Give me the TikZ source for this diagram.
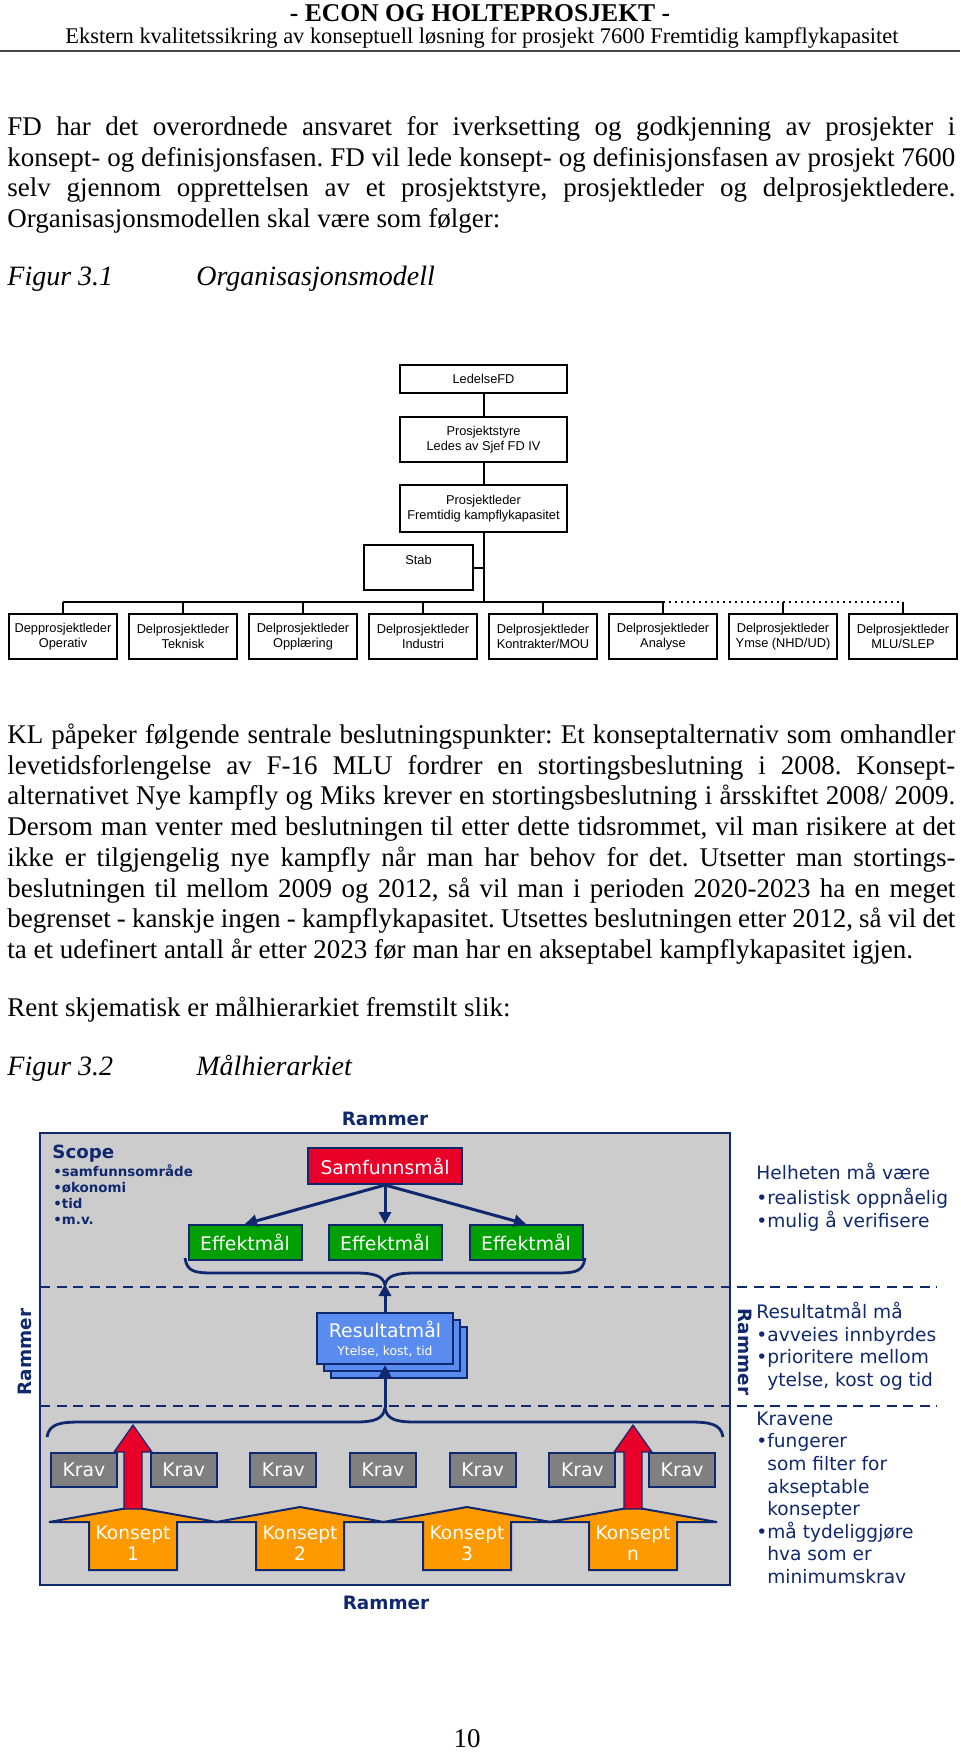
\documentclass[tikz,border=0pt]{standalone}
\usepackage{fontspec}
\setmainfont{Liberation Serif}
\newfontfamily\orgfont{Liberation Sans}
\newfontfamily\dgfont{DejaVu Sans}
\usetikzlibrary{arrows.meta}
\frenchspacing

\definecolor{navy}{RGB}{16,40,110}
\definecolor{panelgrey}{RGB}{204,204,204}
\definecolor{samfred}{RGB}{232,0,40}
\definecolor{effgreen}{RGB}{0,160,0}
\definecolor{resblue}{RGB}{90,140,240}
\definecolor{kravgrey}{RGB}{128,128,128}
\definecolor{konorange}{RGB}{255,153,0}
\definecolor{rulegrey}{RGB}{70,70,70}

\newcommand{\jline}[1]{\makebox[474pt][s]{#1}}

\tikzset{
  orgbox/.style={draw, line width=0.6pt, fill=white, inner sep=0pt, align=center,
    font=\orgfont\fontsize{6.4}{7.8}\selectfont, minimum width=54pt, minimum height=22.5pt},
  orgline/.style={line width=1pt},
  goalbox/.style={draw=navy, line width=1pt, text=white, inner sep=0pt, align=center,
    font=\dgfont\fontsize{9.4}{10.5}\selectfont},
  goalarrow/.style={navy, line width=1.5pt, -{Triangle[length=6pt,width=6pt]}},
  bracket/.style={navy, line width=1.4pt},
  rammer/.style={text=navy, inner sep=0pt, font=\dgfont\bfseries\fontsize{9.2}{11}\selectfont},
  sidetext/.style={text=navy, align=left, anchor=north west, inner sep=0pt,
    font=\dgfont\fontsize{9.3}{11.3}\selectfont},
  bodyline/.style={anchor=base west, inner sep=0pt, font=\fontsize{13.5}{15.5}\selectfont},
  figline/.style={anchor=base west, inner sep=0pt, font=\itshape\fontsize{14}{16}\selectfont},
}

\begin{document}
\begin{tikzpicture}[x=0.5pt,y=-0.5pt]
\useasboundingbox (0,0) rectangle (960,1753);

% header
\node[anchor=base, inner sep=0pt, font=\bfseries\fontsize{12.8}{15}\selectfont] (head1) at (480,21) {- ECON OG HOLTEPROSJEKT -};
\node[anchor=base, inner sep=0pt, font=\fontsize{11.2}{13}\selectfont] (head2) at (482,43) {Ekstern kvalitetssikring av konseptuell løsning for prosjekt 7600 Fremtidig kampflykapasitet};
\draw[rulegrey, line width=1pt] (0,51) -- (960,51);

% first paragraph
\node[bodyline] (p1a) at (7,135) {\jline{FD har det overordnede ansvaret for iverksetting og godkjenning av prosjekter i}};
\node[bodyline] (p1b) at (7,166) {\jline{konsept- og definisjonsfasen. FD vil lede konsept- og definisjonsfasen av prosjekt 7600}};
\node[bodyline] (p1c) at (7,196) {\jline{selv gjennom opprettelsen av et prosjektstyre, prosjektleder og delprosjektledere.}};
\node[bodyline] (p1d) at (7,227) {Organisasjonsmodellen skal være som følger:};

\node[figline] (fig1) at (7,285) {Figur 3.1};
\node[figline] (fig1t) at (196,285) {Organisasjonsmodell};

% organisation chart
\node[orgbox, minimum width=83.5pt, minimum height=14pt] (ledelse) at (483.5,379) {LedelseFD};
\node[orgbox, minimum width=83.5pt] (styre) at (483.5,439.5) {Prosjektstyre\\Ledes av Sjef FD IV};
\node[orgbox, minimum width=83.5pt, minimum height=23.5pt] (pleder) at (483.5,508.5) {Prosjektleder\\Fremtidig kampflykapasitet};
\node[orgbox, minimum width=54.5pt] (stab) at (418.5,567.5) {Stab\\\mbox{}};

\foreach \name/\txt [count=\i from 0] in {
    dp1/{Depprosjektleder\\Operativ},
    dp2/{Delprosjektleder\\Teknisk},
    dp3/{Delprosjektleder\\Opplæring},
    dp4/{Delprosjektleder\\Industri},
    dp5/{Delprosjektleder\\Kontrakter/MOU},
    dp6/{Delprosjektleder\\Analyse},
    dp7/{Delprosjektleder\\Ymse (NHD/UD)},
    dp8/{Delprosjektleder\\MLU/SLEP}}
  \node[orgbox] (\name) at (63+120*\i,636.5) {\txt};

\coordinate (bar) at (483.5,602);
\draw[orgline] (ledelse) -- (styre);
\draw[orgline] (styre) -- (pleder);
\draw[orgline] (pleder.south) -- (bar);
\draw[orgline] (stab.east) -- (stab.east -| bar);
\draw[orgline] (dp1.north |- bar) -- (dp6.north |- bar);
\draw[orgline, dotted] (dp6.north |- bar) -- (dp8.north |- bar);
\foreach \name in {dp1,dp2,dp3,dp4,dp5,dp6,dp7,dp8}
  \draw[orgline] (\name.north) -- (\name.north |- bar);

% second paragraph
\node[bodyline] (p2a) at (7,743) {\jline{KL påpeker følgende sentrale beslutningspunkter: Et konseptalternativ som omhandler}};
\node[bodyline] (p2b) at (7,774) {\jline{levetidsforlengelse av F-16 MLU fordrer en stortingsbeslutning i 2008. Konsept-}};
\node[bodyline] (p2c) at (7,804) {\jline{alternativet Nye kampfly og Miks krever en stortingsbeslutning i årsskiftet 2008/ 2009.}};
\node[bodyline] (p2d) at (7,835) {\jline{Dersom man venter med beslutningen til etter dette tidsrommet, vil man risikere at det}};
\node[bodyline] (p2e) at (7,866) {\jline{ikke er tilgjengelig nye kampfly når man har behov for det. Utsetter man stortings-}};
\node[bodyline] (p2f) at (7,897) {\jline{beslutningen til mellom 2009 og 2012, så vil man i perioden 2020-2023 ha en meget}};
\node[bodyline] (p2g) at (7,927) {\jline{begrenset - kanskje ingen - kampflykapasitet. Utsettes beslutningen etter 2012, så vil det}};
\node[bodyline] (p2h) at (7,958) {ta et udefinert antall år etter 2023 før man har en akseptabel kampflykapasitet igjen.};

\node[bodyline] (p3) at (7,1016) {Rent skjematisk er målhierarkiet fremstilt slik:};

\node[figline] (fig2) at (7,1075) {Figur 3.2};
\node[figline] (fig2t) at (196,1075) {Målhierarkiet};

% goal hierarchy
\draw[navy, line width=1pt, fill=panelgrey] (40,1133) rectangle (730,1585);
\draw[navy, line width=1.2pt, dash pattern=on 5pt off 3.3pt] (40,1287) -- (937,1287);
\draw[navy, line width=1.2pt, dash pattern=on 5pt off 3.3pt] (40,1406) -- (937,1406);

\node[rammer] (rtop) at (385,1119) {Rammer};
\node[rammer] (rbot) at (386,1603) {Rammer};
\node[rammer, rotate=90] (rleft) at (25,1352) {Rammer};
\node[rammer, rotate=-90] (rright) at (745,1352) {Rammer};

\node[anchor=base west, inner sep=0pt, text=navy, font=\dgfont\bfseries\fontsize{9.1}{11}\selectfont] (scope) at (52,1158) {Scope};
\node[anchor=north west, inner sep=0pt, text=navy, align=left, font=\dgfont\bfseries\fontsize{6.7}{8}\selectfont] (scopelist) at (53,1164) {\strut•samfunnsområde\\•økonomi\\•tid\\•m.v.};

\node[goalbox, fill=samfred, minimum width=77pt, minimum height=18pt] (samf) at (385,1166) {Samfunnsmål};
\foreach \x [count=\i] in {245,385,526}
  \node[goalbox, fill=effgreen, minimum width=56.5pt, minimum height=17.5pt] (eff\i) at (\x,1242.5) {Effektmål};
\foreach \i in {1,2,3}
  \draw[goalarrow] (samf.south) -- (eff\i.north);

\draw[bracket] (185,1258) .. controls (187,1272) and (195,1273) .. (215,1273) -- (355,1273)
  .. controls (375,1273) and (383,1276) .. (385,1285)
  .. controls (387,1276) and (395,1273) .. (415,1273) -- (555,1273)
  .. controls (575,1273) and (583,1272) .. (585,1258);

\node[goalbox, fill=resblue, minimum width=68pt, minimum height=25.5pt] (res3) at (399,1352.5) {};
\node[goalbox, fill=resblue, minimum width=68pt, minimum height=25.5pt] (res2) at (392,1345.5) {};
\node[goalbox, fill=resblue, minimum width=68pt, minimum height=25.5pt] (res) at (385,1338.5)
  {Resultatmål\\[-1.5pt]{\fontsize{6.2}{7}\selectfont Ytelse, kost, tid}};

\coordinate (braceTop) at (385,1284);
\coordinate (braceLow) at (385,1408);
\draw[goalarrow] (res.north) -- (braceTop);
\draw[goalarrow] (braceLow) -- (res.south);

\draw[bracket] (47,1437) .. controls (49,1424) and (60,1422) .. (80,1422) -- (355,1422)
  .. controls (375,1422) and (383,1419) .. (385,1408)
  .. controls (387,1419) and (395,1422) .. (415,1422) -- (690,1422)
  .. controls (710,1422) and (721,1424) .. (723,1437);

\foreach \i in {0,...,6}
  \node[goalbox, fill=kravgrey, minimum width=33pt, minimum height=17pt] (krav\i) at (84+99.67*\i,1470) {Krav};

\foreach \a/\num in {133/1,300/2,467/3,633/n} {
  \draw[navy, line width=1pt, fill=konorange] (\a-84,1522) -- (\a,1507) -- (\a+84,1522) -- (\a+44,1522)
    -- (\a+44,1570) -- (\a-44,1570) -- (\a-44,1522) -- cycle;
  \node[text=white, inner sep=0pt, align=center, font=\dgfont\fontsize{9.3}{10.5}\selectfont] (kons\num) at (\a,1543) {Konsept\\\num};
}
\foreach \a in {133,633}
  \draw[navy, line width=0.6pt, fill=samfred] (\a-9,1509) -- (\a-9,1452) -- (\a-19,1452) -- (\a,1425)
    -- (\a+19,1452) -- (\a+9,1452) -- (\a+9,1509) -- cycle;

\node[sidetext] (helhet) at (756,1163) {\strut Helheten må være\\•realistisk oppnåelig\\•mulig å verifisere};
\node[sidetext] (resmaa) at (756,1302) {\strut Resultatmål må\\•avveies innbyrdes\\•prioritere mellom\\\phantom{•}ytelse, kost og tid};
\node[sidetext] (kravene) at (756,1409) {\strut Kravene\\•fungerer\\\phantom{•}som filter for\\\phantom{•}akseptable\\\phantom{•}konsepter\\•må tydeliggjøre\\\phantom{•}hva som er\\\phantom{•}minimumskrav};

% page number
\node[anchor=base, inner sep=0pt, font=\fontsize{13.5}{15.5}\selectfont] (pageno) at (467,1747) {10};
\end{tikzpicture}
\end{document}
